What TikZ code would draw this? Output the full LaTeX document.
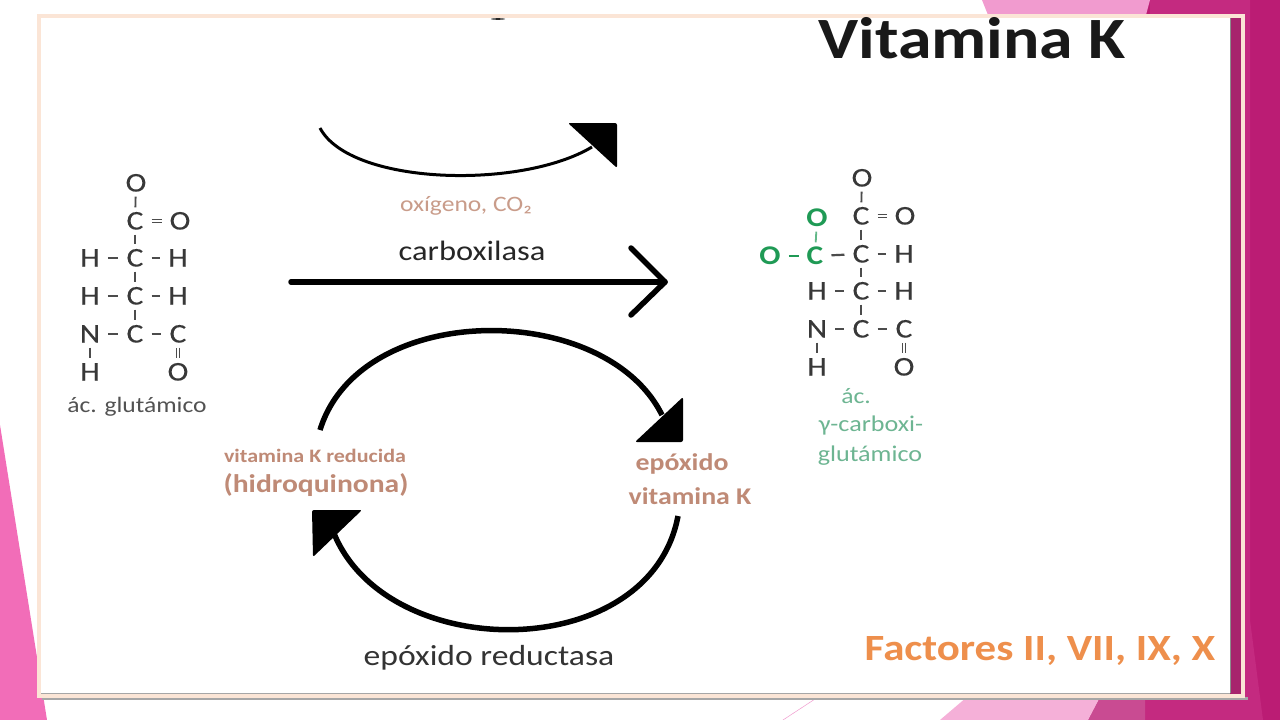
\documentclass[tikz,border=0pt]{standalone}
\usepackage{fontspec}
\setmainfont[FakeStretch=1.16]{Carlito}
\newfontfamily\atomfont[FakeStretch=1.16,FakeBold=0.35]{Carlito}
\usetikzlibrary{calc}
\definecolor{peach}{HTML}{FBE5D6}
\definecolor{magdark}{HTML}{BB1C74}
\definecolor{magmid}{HTML}{C42A80}
\definecolor{maglite}{HTML}{C94B92}
\definecolor{pinkhot}{HTML}{F26DB8}
\definecolor{pinklite}{HTML}{F19BCF}
\definecolor{pinkpale}{HTML}{F5B0D8}
\definecolor{brownish}{HTML}{BF8A76}
\definecolor{greenbold}{HTML}{1F9A55}
\definecolor{greenpale}{HTML}{6DB592}
\definecolor{orangeish}{HTML}{EE8F4C}
\begin{document}
\begin{tikzpicture}[x=1pt,y=-1pt]
\tikzstyle{atom}=[inner sep=0pt,text height=17pt,text depth=0pt,text=black!78,font=\atomfont\fontsize{27}{27}\selectfont]
\tikzstyle{gatom}=[atom,text=greenbold,font=\fontsize{27}{27}\selectfont\bfseries]
\tikzstyle{vbond}=[black!70,line width=1.8pt,shorten >=5pt,shorten <=5pt]
\tikzstyle{hbond}=[black!70,line width=2.2pt,shorten >=8pt,shorten <=8pt]
\tikzstyle{dbond}=[black!70,line width=1.4pt,double,double distance=2pt,shorten >=5pt,shorten <=5pt]
\tikzstyle{ebond}=[dbond,shorten >=7pt,shorten <=8pt]
\tikzstyle{gvbond}=[vbond,greenbold!70]
\tikzstyle{ghbond}=[hbond,greenbold,line width=2.4pt]
\tikzstyle{thick arc}=[black,line width=5.5pt]
\tikzstyle{head}=[black,rounded corners=2pt]
\tikzstyle{lbl}=[inner sep=0pt,align=center]
\useasboundingbox (0,0) rectangle (1280,720);
% background
\fill[white] (0,0) rectangle (1280,720);
\fill[magdark] (1140,0) -- (1280,0) -- (1280,720) -- (1088,720) -- (1100,697) -- (1140,697) -- cycle;
\fill[magmid] (1150,0) -- (1250,0) -- (1250,620) -- (1263,720) -- (1145,720) -- (1145,690) -- cycle;
\fill[maglite] (1100,697) -- (1145,697) -- (1145,720) -- (1088,720) -- cycle;
\fill[pinklite] (982,0) -- (1150,0) -- (1146,15) -- (988,15) -- cycle;
\fill[pinkpale] (940,720) -- (967,697) -- (1100,697) -- (1088,720) -- cycle;
\fill[pinkhot] (0,425) -- (47,720) -- (0,720) -- cycle;
\draw[pinklite,line width=.5pt] (783,720) -- (815,699);
% slide
\fill[black!35] (42,697) rectangle (1248,700);
\fill[magmid!85!black] (1230,17) rectangle (1241,695);
\fill[white] (40,17) rectangle (1230,695);
\draw[peach,line width=4pt] (39,16) rectangle (1243,696);
\draw[black!35,line width=1pt] (41,693) -- (1230,693);
\draw[black!45,line width=1pt] (1230,18) -- (1230,693);
% titulo
\node[lbl,font=\fontsize{58.5}{58.5}\selectfont\bfseries,text=black!90] (titulo) at (972,38) {Vitamina K};
\fill[black!85] (498,19) ellipse (7pt and .8pt);
% ac. glutamico
\node[atom] (A_0) at (136,183) {O};
\node[atom] (A_1) at (135,221) {C};
\node[atom] (A_2) at (180,221) {O};
\node[atom] (A_3) at (90,258) {H};
\node[atom] (A_4) at (135,258) {C};
\node[atom] (A_5) at (178,258) {H};
\node[atom] (A_6) at (90,296) {H};
\node[atom] (A_7) at (135,296) {C};
\node[atom] (A_8) at (178,296) {H};
\node[atom] (A_9) at (90,334) {N};
\node[atom] (A_10) at (135,334) {C};
\node[atom] (A_11) at (178,334) {C};
\node[atom] (A_12) at (90,372) {H};
\node[atom] (A_13) at (178,372) {O};
\draw[vbond] (A_0) -- (A_1);
\draw[vbond] (A_1) -- (A_4);
\draw[vbond] (A_4) -- (A_7);
\draw[vbond] (A_7) -- (A_10);
\draw[vbond] (A_9) -- (A_12);
\draw[ebond] (A_1) -- (A_2);
\draw[dbond] (A_11) -- (A_13);
\draw[hbond] (A_3) -- (A_4);
\draw[hbond] (A_4) -- (A_5);
\draw[hbond] (A_6) -- (A_7);
\draw[hbond] (A_7) -- (A_8);
\draw[hbond] (A_9) -- (A_10);
\draw[hbond] (A_10) -- (A_11);
\node[lbl,text=black!68,font=\fontsize{22}{22}\selectfont] (glu) at (137,407) {ác. glutámico};
% ac. gamma-carboxi-glutamico
\node[atom] (B_0) at (862,178) {O};
\node[atom] (B_1) at (861,216) {C};
\node[atom] (B_2) at (905,216) {O};
\node[gatom] (B_3) at (817,218) {O};
\node[gatom] (B_4) at (770,256) {O};
\node[gatom] (B_5) at (815,256) {C};
\node[atom] (B_6) at (861,254) {C};
\node[atom] (B_7) at (904,254) {H};
\node[atom] (B_8) at (817,291) {H};
\node[atom] (B_9) at (861,291) {C};
\node[atom] (B_10) at (904,291) {H};
\node[atom] (B_11) at (817,329) {N};
\node[atom] (B_12) at (861,329) {C};
\node[atom] (B_13) at (904,329) {C};
\node[atom] (B_14) at (817,367) {H};
\node[atom] (B_15) at (904,367) {O};
\draw[vbond] (B_0) -- (B_1);
\draw[vbond] (B_1) -- (B_6);
\draw[vbond] (B_6) -- (B_9);
\draw[vbond] (B_9) -- (B_12);
\draw[vbond] (B_11) -- (B_14);
\draw[gvbond] (B_3) -- (B_5);
\draw[ebond] (B_1) -- (B_2);
\draw[dbond] (B_13) -- (B_15);
\draw[ghbond] (B_4) -- (B_5);
\draw[hbond] (B_5) -- (B_6);
\draw[hbond] (B_6) -- (B_7);
\draw[hbond] (B_8) -- (B_9);
\draw[hbond] (B_9) -- (B_10);
\draw[hbond] (B_11) -- (B_12);
\draw[hbond] (B_12) -- (B_13);
\node[lbl,text=greenpale,font=\fontsize{22}{22}\selectfont] (acg) at (856,396) {ác.};
\node[lbl,text=greenpale,font=\fontsize{22.5}{22.5}\selectfont] (gam) at (871,425) {γ-carboxi-};
\node[lbl,text=greenpale,font=\fontsize{22.5}{22.5}\selectfont] (gmi) at (870,456) {glutámico};
% oxigeno
\coordinate (ox_a) at (320,128);
\coordinate (ox_b) at (592,147);
\draw[black,line width=3pt] (ox_a) .. controls (350,185) and (520,190) .. (ox_b);
\fill[head] (568,123) -- (617,123) -- (617,168) -- cycle;
\node[lbl,text=brownish!85,font=\fontsize{22}{22}\selectfont] (oxi) at (466,206) {oxígeno, CO₂};
% carboxilasa
\coordinate (car_a) at (291,282);
\coordinate (car_b) at (665,282);
\draw[thick arc,line cap=round] (car_a) -- (car_b);
\draw[thick arc,line cap=round,line join=round] (631,248) -- (car_b) -- (631,315);
\node[lbl,text=black!85,font=\fontsize{28}{28}\selectfont] (cxl) at (472,251) {carboxilasa};
% ciclo
\coordinate (cy_a) at (320,430);
\coordinate (cy_b) at (662,415);
\coordinate (cy_c) at (678,516);
\coordinate (cy_d) at (333,531);
\draw[thick arc] (cy_a) .. controls (360,300) and (605,300) .. (cy_b);
\fill[head] (635,442) -- (683,442) -- (683,397) -- cycle;
\draw[thick arc] (cy_c) .. controls (650,665) and (385,665) .. (cy_d);
\fill[head] (312,510) -- (362,510) -- (313,557) -- cycle;
\node[lbl,text=brownish,font=\fontsize{19}{19}\selectfont\bfseries] (vkr) at (315,456) {vitamina K reducida};
\node[lbl,text=brownish,font=\fontsize{25.5}{25.5}\selectfont\bfseries] (hid) at (316,485) {(hidroquinona)};
\node[lbl,text=brownish,font=\fontsize{24}{24}\selectfont\bfseries] (epo) at (682,464) {epóxido};
\node[lbl,text=brownish,font=\fontsize{24}{24}\selectfont\bfseries] (vik) at (690,496) {vitamina K};
\node[lbl,text=black!80,font=\fontsize{29}{29}\selectfont] (red) at (489,658) {epóxido reductasa};
\node[lbl,text=orangeish,font=\fontsize{37}{37}\selectfont\bfseries] (fac) at (1040,651) {Factores II, VII, IX, X};
\end{tikzpicture}
\end{document}
